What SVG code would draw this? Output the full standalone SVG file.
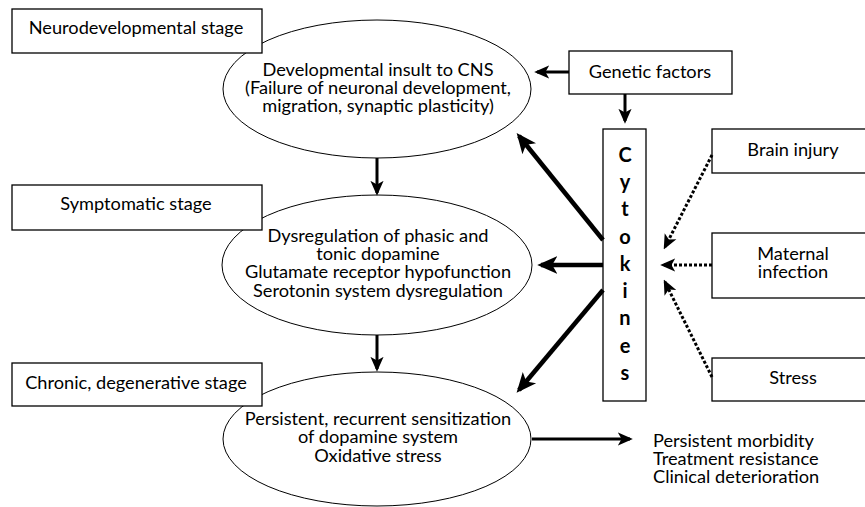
<svg xmlns="http://www.w3.org/2000/svg" width="865" height="507" viewBox="0 0 865 507">
<style>
.bg{fill:#fff}
.box{fill:#fff;stroke:#000;stroke-width:1.3}
.ell{fill:#fff;stroke:#000;stroke-width:1}
text{font-family:Lato,"Open Sans","Liberation Sans",sans-serif;font-size:18.2px;fill:#000}
.c{text-anchor:middle}
.cy{font-weight:bold;font-size:20px;text-anchor:middle}
.a3{fill:none;stroke:#000;stroke-width:3;marker-end:url(#ah)}
.a4{fill:none;stroke:#000;stroke-width:4.5;marker-end:url(#ahb)}
.ad{fill:none;stroke:#000;stroke-width:3;stroke-dasharray:3 2;marker-end:url(#ahd)}
</style>
<defs>
<marker id="ah" markerUnits="userSpaceOnUse" viewBox="0 0 16 16" markerWidth="15" markerHeight="15" refX="13" refY="8" orient="auto">
<path d="M0,1 L16,8 L0,15 L4,8 z" fill="#000"/>
</marker>
<marker id="ahb" markerUnits="userSpaceOnUse" viewBox="0 0 16 16" markerWidth="20" markerHeight="20" refX="13" refY="8" orient="auto">
<path d="M0,1 L16,8 L0,15 L4,8 z" fill="#000"/>
</marker>
<marker id="ahd" markerUnits="userSpaceOnUse" viewBox="0 0 16 16" markerWidth="15" markerHeight="15" refX="13" refY="8" orient="auto">
<path d="M0,1 L16,8 L0,15 L4,8 z" fill="#000"/>
</marker>
</defs>
<rect class="bg" x="0" y="0" width="865" height="507"/>

<g id="ell1">
<ellipse class="ell" cx="377" cy="89" rx="154" ry="69"/>
<text class="c"><tspan x="378" y="76">Developmental insult to CNS</tspan><tspan x="378" y="94">(Failure of neuronal development,</tspan><tspan x="378" y="112">migration, synaptic plasticity)</tspan></text>
</g>
<g id="ell2">
<ellipse class="ell" cx="377" cy="265" rx="155" ry="70"/>
<text class="c"><tspan x="378" y="242">Dysregulation of phasic and</tspan><tspan x="378" y="260">tonic dopamine</tspan><tspan x="378" y="278">Glutamate receptor hypofunction</tspan><tspan x="378" y="297">Serotonin system dysregulation</tspan></text>
</g>
<g id="ell3">
<ellipse class="ell" cx="377" cy="439" rx="154" ry="67"/>
<text class="c"><tspan x="378" y="425">Persistent, recurrent sensitization</tspan><tspan x="378" y="443">of dopamine system</tspan><tspan x="378" y="462">Oxidative stress</tspan></text>
</g>

<g id="stage1">
<rect class="box" x="12" y="9" width="250" height="44"/>
<text class="c" x="136" y="34">Neurodevelopmental stage</text>
</g>
<g id="stage2">
<rect class="box" x="12" y="185" width="250" height="45"/>
<text class="c" x="136" y="210">Symptomatic stage</text>
</g>
<g id="stage3">
<rect class="box" x="12" y="363" width="250" height="43"/>
<text class="c" x="136" y="389">Chronic, degenerative stage</text>
</g>

<g id="genetic">
<rect class="box" x="569" y="51" width="163" height="43"/>
<text class="c" x="650" y="78">Genetic factors</text>
</g>
<g id="cytokines">
<rect class="box" x="603" y="129" width="43" height="272"/>
<text class="cy"><tspan x="625" y="162">C</tspan><tspan x="625" y="189">y</tspan><tspan x="625" y="216">t</tspan><tspan x="625" y="244">o</tspan><tspan x="625" y="271">k</tspan><tspan x="625" y="298">i</tspan><tspan x="625" y="325">n</tspan><tspan x="625" y="353">e</tspan><tspan x="625" y="380">s</tspan></text>
</g>
<g id="brain">
<rect class="box" x="712" y="129" width="160" height="44"/>
<text class="c" x="793" y="156">Brain injury</text>
</g>
<g id="maternal">
<rect class="box" x="712" y="233" width="160" height="65"/>
<text class="c"><tspan x="793" y="260">Maternal</tspan><tspan x="793" y="278">infection</tspan></text>
</g>
<g id="stress">
<rect class="box" x="712" y="358" width="160" height="43"/>
<text class="c" x="793" y="384">Stress</text>
</g>
<g id="outcome">
<text><tspan x="653" y="447">Persistent morbidity</tspan><tspan x="653" y="465">Treatment resistance</tspan><tspan x="653" y="483">Clinical deterioration</tspan></text>
</g>

<g id="connectors">
<line class="a3" x1="377" y1="158" x2="377" y2="193"/>
<line class="a3" x1="377" y1="335" x2="377" y2="369"/>
<line class="a3" x1="569" y1="72" x2="537" y2="72"/>
<line class="a3" x1="625" y1="94" x2="625" y2="121"/>
<line class="a3" x1="532" y1="439" x2="630" y2="439"/>
<line class="a4" x1="603" y1="240" x2="519" y2="136"/>
<line class="a4" x1="603" y1="265" x2="541" y2="265"/>
<line class="a4" x1="603" y1="290" x2="519" y2="390"/>
<line class="ad" x1="712" y1="155" x2="665" y2="247"/>
<line class="ad" x1="712" y1="265" x2="663" y2="265"/>
<line class="ad" x1="712" y1="377" x2="665" y2="282"/>
</g>
</svg>
